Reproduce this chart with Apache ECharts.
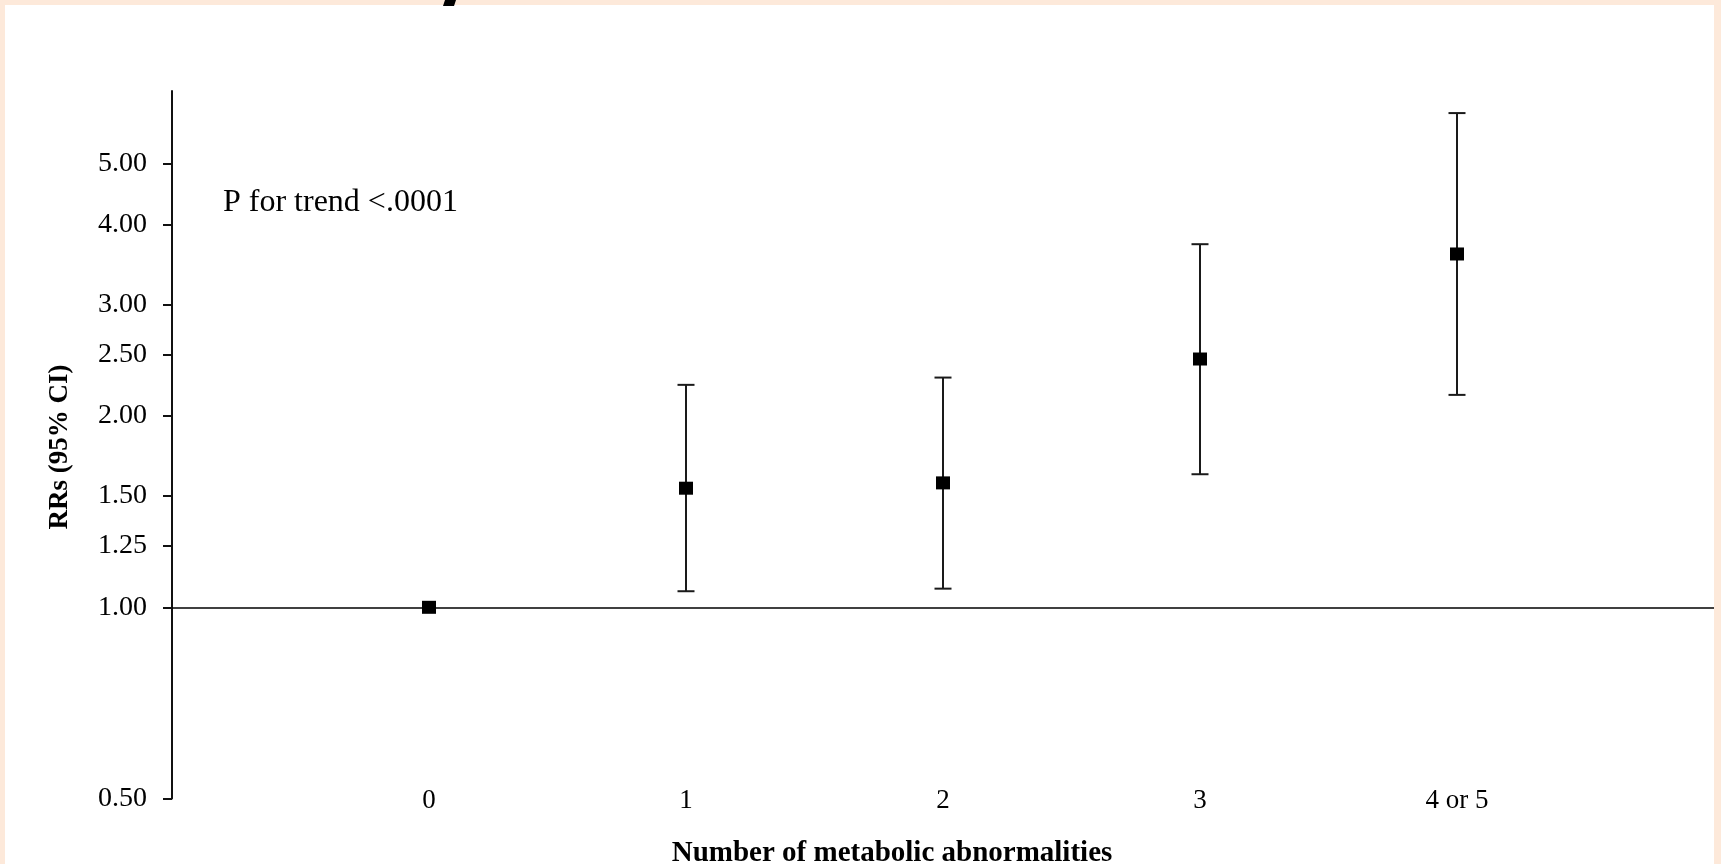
<!DOCTYPE html>
<html>
<head>
<meta charset="utf-8">
<title>RRs by number of metabolic abnormalities</title>
<script src="https://cdn.jsdelivr.net/npm/echarts@6/dist/echarts.min.js"></script>
<style>
  html, body { margin: 0; padding: 0; background: #fde9da; }
  #chart { width: 1721px; height: 864px; }
</style>
</head>
<body>
<div id="chart"></div>
<script>
// Number of metabolic abnormalities (x categories)
const categories = ['0', '1', '2', '3', '4 or 5'];
// Relative risks and 95% confidence limits
const rr    = [1.00, 1.54, 1.57, 2.46, 3.60];
const lower = [null, 1.06, 1.07, 1.62, 2.16];
const upper = [null, 2.24, 2.30, 3.73, 6.00];
// Y-axis tick values (log scale)
const yTicks = [0.5, 1, 1.25, 1.5, 2, 2.5, 3, 4, 5];

const yTitle = 'RRs (95% CI)';
const xTitle = 'Number of metabolic abnormalities';
const trendNote = 'P for trend <.0001';

const serif = '"Liberation Serif", "Times New Roman", serif';

const points = categories.map((c, i) => [i, rr[i]]);
const bars = categories
  .map((c, i) => [i, lower[i], upper[i]])
  .filter(d => d[1] != null);

const chart = echarts.init(document.getElementById('chart'), null, { renderer: 'canvas' });

chart.setOption({
  backgroundColor: '#fde9da',
  animation: false,
  grid: { left: 172, right: 7, top: 91, bottom: 65.5, containLabel: false },
  xAxis: {
    type: 'value',
    min: -1,
    max: 5,
    interval: 1,
    axisLine: { show: false },
    axisTick: { show: false },
    splitLine: { show: false },
    axisLabel: {
      margin: 2,
      verticalAlign: 'middle',
      fontFamily: serif,
      fontSize: 27,
      color: '#000',
      formatter: v => (v >= 0 && v < categories.length ? categories[v] : '')
    }
  },
  yAxis: {
    type: 'log',
    logBase: 10,
    min: 0.5,
    max: 6.5,
    splitLine: { show: false },
    axisLine: { show: true, onZero: false, lineStyle: { color: '#111', width: 2 } },
    axisTick: {
      show: true,
      inside: false,
      length: 9,
      lineStyle: { color: '#111', width: 2 },
      customValues: yTicks
    },
    axisLabel: {
      margin: 25,
      fontFamily: serif,
      fontSize: 28,
      color: '#000',
      customValues: yTicks,
      formatter: v => Number(v).toFixed(2)
    }
  },
  graphic: [
    {
      type: 'rect',
      z: -10,
      shape: { x: 5, y: 5, width: 1709, height: 870 },
      style: { fill: '#ffffff' }
    },
    {
      type: 'polygon',
      z: 10,
      shape: { points: [[445, 0], [456, 0], [454, 6], [443, 6]] },
      style: { fill: '#000' }
    },
    {
      type: 'text',
      x: 223,
      y: 203,
      style: {
        text: trendNote,
        font: '32px ' + serif,
        fill: '#000',
        align: 'left',
        verticalAlign: 'middle'
      }
    },
    {
      type: 'text',
      x: 60,
      y: 447,
      rotation: Math.PI / 2,
      style: {
        text: yTitle,
        font: 'bold 27px ' + serif,
        fill: '#000',
        align: 'center',
        verticalAlign: 'middle'
      }
    },
    {
      type: 'text',
      x: 892,
      y: 854,
      style: {
        text: xTitle,
        font: 'bold 29px ' + serif,
        fill: '#000',
        align: 'center',
        verticalAlign: 'middle'
      }
    }
  ],
  series: [
    {
      type: 'custom',
      name: 'CI',
      z: 2,
      data: bars,
      renderItem: (params, api) => {
        const x = api.value(0);
        const lo = api.coord([x, api.value(1)]);
        const hi = api.coord([x, api.value(2)]);
        const cap = 8.5;
        const style = { stroke: '#1a1a1a', lineWidth: 2 };
        return {
          type: 'group',
          children: [
            { type: 'line', shape: { x1: lo[0], y1: lo[1], x2: hi[0], y2: hi[1] }, style },
            { type: 'line', shape: { x1: hi[0] - cap, y1: hi[1], x2: hi[0] + cap, y2: hi[1] }, style },
            { type: 'line', shape: { x1: lo[0] - cap, y1: lo[1], x2: lo[0] + cap, y2: lo[1] }, style }
          ]
        };
      }
    },
    {
      type: 'scatter',
      name: 'RR',
      z: 3,
      symbol: 'rect',
      symbolSize: [14, 13],
      itemStyle: { color: '#000', opacity: 1 },
      data: points,
      markLine: {
        silent: true,
        symbol: ['none', 'none'],
        label: { show: false },
        lineStyle: { color: '#000', width: 1.5, type: 'solid' },
        data: [{ yAxis: 1 }]
      }
    }
  ]
});
</script>
</body>
</html>
